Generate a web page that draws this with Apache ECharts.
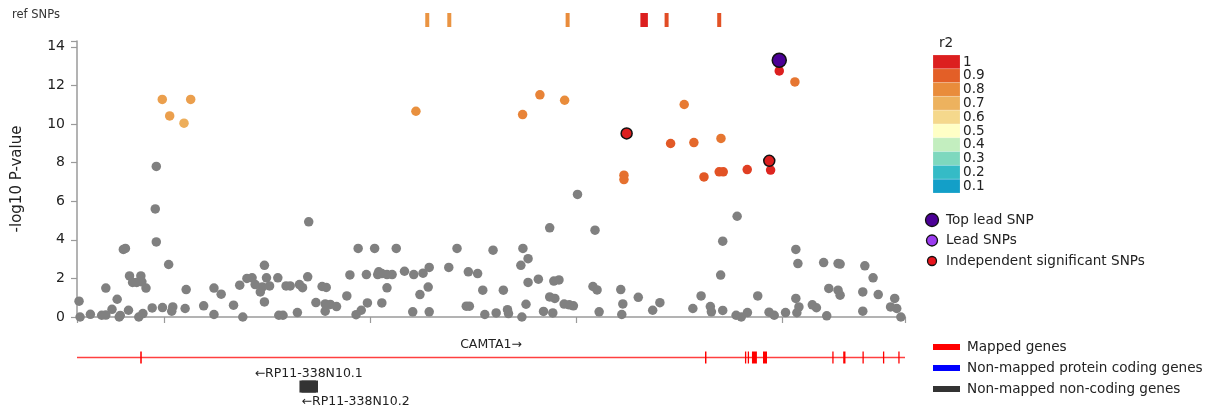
<!DOCTYPE html>
<html>
<head>
<meta charset="utf-8">
<script src="https://cdn.jsdelivr.net/npm/echarts@6/dist/echarts.min.js"></script>
<style>
  html, body { margin: 0; padding: 0; background: #fff; }
  #chart { width: 1209px; height: 411px; }
</style>
</head>
<body>
<div id="chart"></div>
<script>
// Regional association plot: positions in kb, -log10 P on the y axis.
const X_MIN = 6915, X_MAX = 7719;
const X_TICKS = [7000, 7200, 7400, 7600];
const Y_MAX = 14.3;
const Y_TICKS = [0, 2, 4, 6, 8, 10, 12, 14];

// SNPs not in LD with the lead SNP: [position kb, -log10 P]
const greySnps = [
  [6917,0.82],[6918,0.0],[6928,0.14],[6939,0.09],[6943,0.1],[6943,1.5],[6949,0.4],[6954,0.92],
  [6956,0.0],[6957,0.08],[6960,3.5],[6962,3.55],[6965,0.35],[6966,2.13],[6969,1.79],[6973,1.79],
  [6977,2.13],[6978,1.82],[6982,1.5],[6975,0.0],[6979,0.18],[6988,0.47],[6992,3.89],[6991,5.6],
  [6992,7.8],[6998,0.49],[7004,2.72],[7007,0.3],[7008,0.52],[7020,0.44],[7021,1.42],[7038,0.58],
  [7048,1.5],[7048,0.13],[7055,1.18],[7067,0.61],[7076,0.0],[7073,1.65],[7080,2.0],[7085,2.03],
  [7088,1.68],[7093,1.3],[7097,2.68],[7099,2.03],[7097,0.78],[7102,1.61],[7095,1.56],[7110,2.03],
  [7111,0.09],[7115,0.09],[7118,1.61],[7122,1.61],[7129,0.23],[7131,1.68],[7134,1.52],[7139,2.08],
  [7140,4.93],[7147,0.75],[7153,1.58],[7157,1.53],[7156,0.68],[7156,0.3],[7161,0.65],[7167,0.54],
  [7177,1.09],[7180,2.18],[7186,0.12],[7188,3.55],[7191,0.35],[7196,2.2],[7197,0.73],[7208,2.34],
  [7207,2.2],[7211,2.25],[7216,2.2],[7221,2.2],[7216,1.51],[7211,0.73],[7204,3.55],[7225,3.55],
  [7233,2.37],[7242,2.2],[7241,0.27],[7251,2.27],[7257,2.57],[7248,1.16],[7256,1.55],[7257,0.27],
  [7276,2.57],[7284,3.55],[7295,2.34],[7304,2.25],[7293,0.56],[7296,0.56],[7309,1.39],[7311,0.13],
  [7319,3.46],[7322,0.21],[7329,1.39],[7333,0.38],[7334,0.18],[7346,2.68],[7348,3.55],[7353,3.02],
  [7347,0.0],[7351,0.66],[7353,1.79],[7363,1.96],[7374,4.62],[7368,0.29],[7374,1.04],[7379,0.96],
  [7377,0.21],[7378,1.86],[7383,1.92],[7388,0.67],[7393,0.63],[7397,0.58],[7401,6.35],[7418,4.5],
  [7416,1.58],[7420,1.4],[7422,0.27],[7443,1.42],[7445,0.68],[7444,0.13],[7460,1.02],[7474,0.35],
  [7481,0.74],[7513,0.44],[7521,1.09],[7530,0.54],[7531,0.27],[7540,2.17],[7542,3.93],[7542,0.34],
  [7556,5.22],[7555,0.09],[7560,0.0],[7566,0.23],[7576,1.09],[7587,0.25],[7592,0.09],[7603,0.23],
  [7613,3.5],[7615,2.77],[7613,0.96],[7616,0.52],[7614,0.22],[7629,0.63],[7633,0.48],[7643,0.06],
  [7640,2.82],[7654,2.77],[7656,2.74],[7645,1.48],[7654,1.39],[7656,1.13],[7678,0.3],[7680,2.65],
  [7678,1.3],[7688,2.03],[7693,1.16],[7709,0.96],[7705,0.52],[7711,0.44],[7715,0.0]
];

// SNPs in LD with the lead SNP
const ldPos  = [6997.8, 7025.4, 7005.0, 7018.9, 7244.1, 7364.5, 7347.7, 7388.5, 7504.6, 7612.1, 7596.9,
                7491.4, 7514.0, 7540.3, 7446.1, 7446.1, 7523.8, 7538.6, 7542.5, 7565.8, 7588.5];
const ldLogP = [11.27, 11.27, 10.42, 10.04, 10.66, 11.51, 10.49, 11.23, 11.01, 12.18, 12.75,
                8.99, 9.04, 9.25, 7.35, 7.12, 7.26, 7.52, 7.52, 7.64, 7.61];
const ldR2   = [0.75, 0.75, 0.75, 0.71, 0.79, 0.82, 0.82, 0.8, 0.84, 0.85, 1.0,
                0.91, 0.88, 0.85, 0.86, 0.86, 0.91, 0.92, 0.92, 0.95, 0.99];

// Independent significant SNPs and the top lead SNP
const indepPos  = [7448.7, 7587.2];
const indepLogP = [9.51, 8.09];
const indepR2   = [1, 1];
const topLeadPos  = [7596.9];
const topLeadLogP = [13.3];

// Reference-panel SNPs (no P value), shown in the top strip
const refPos = [7255.1, 7276.5, 7391.4, 7464.0, 7467.4, 7487.5, 7538.6];
const refR2  = [0.78, 0.78, 0.8, 1.0, 1.0, 0.93, 0.92];

// r2 colour scale, from 1 down to 0.1
const r2Labels = ['1', '0.9', '0.8', '0.7', '0.6', '0.5', '0.4', '0.3', '0.2', '0.1'];
const r2Colors = ['#dc1f1f', '#e35f27', '#e98c3b', '#edb25e', '#f5d88c',
                  '#ffffc6', '#c3eebf', '#7ed8be', '#35bbc6', '#139fc8'];

// Genes in the region
const geneNames  = ['CAMTA1', 'RP11-338N10.1', 'RP11-338N10.2'];
const geneStart  = [6845, 7131, 7133];
const geneEnd    = [7829, 7149, 7147];
const geneStrand = ['+', '-', '-'];
const geneType   = ['mapped', 'noncoding', 'noncoding'];
const geneRow    = [1, 2.66, 2.66];
const geneLabelSide  = ['above', 'above', 'below'];
const geneLabelAlign = ['center', 'center', 'left'];
const camta1Exons = [[6976.4,6977.9],[7524.8,7526.2],[7563.6,7564.8],[7566.3,7567.5],[7570.4,7575.2],
                     [7581.1,7585.0],[7648.4,7649.6],[7659.0,7661.2],[7677.7,7678.9],[7697.6,7698.4],[7712.5,7713.7]];

const geneLegendNames  = ['Mapped genes', 'Non-mapped protein coding genes', 'Non-mapped non-coding genes'];
const geneLegendColors = ['#ff0000', '#0000ff', '#333333'];
const snpLegendNames   = ['Top lead SNP', 'Lead SNPs', 'Independent significant SNPs'];
const snpLegendColors  = ['#4b0096', '#9b3cf0', '#e8141c'];

const FONT = 'DejaVu Sans';
const AXIS_GREY = '#9a9a9a';
const GENE_COLOR = { mapped: '#ff0000', coding: '#0000ff', noncoding: '#333333' };

const chart = echarts.init(document.getElementById('chart'), null, { renderer: 'canvas' });

function geneItem(params, api) {
  const i = params.dataIndex;
  const row = geneRow[i];
  const s = Math.max(geneStart[i], X_MIN), e = Math.min(geneEnd[i], X_MAX);
  const p0 = api.coord([s, row]), p1 = api.coord([e, row]);
  const color = GENE_COLOR[geneType[i]];
  const children = [];
  const halfH = 6;
  if (geneType[i] === 'mapped') {
    children.push({ type: 'line', shape: { x1: p0[0], y1: p0[1], x2: p1[0], y2: p1[1] },
                    style: { stroke: color, lineWidth: 1.3, opacity: 0.75 } });
    camta1Exons.forEach(([a, b]) => {
      const q0 = api.coord([a, row]), q1 = api.coord([b, row]);
      children.push({ type: 'rect', shape: { x: q0[0], y: q0[1] - halfH, width: Math.max(q1[0] - q0[0], 1.3), height: 2 * halfH },
                      style: { fill: color } });
    });
  } else {
    children.push({ type: 'rect', shape: { x: p0[0], y: p0[1] - halfH, width: p1[0] - p0[0], height: 2 * halfH },
                    style: { fill: color } });
  }
  const text = geneStrand[i] === '+' ? geneNames[i] + '→' : '←' + geneNames[i];
  const align = geneLabelAlign[i];
  const tx = align === 'center' ? (p0[0] + p1[0]) / 2 : p0[0];
  const ty = geneLabelSide[i] === 'above' ? p0[1] - halfH - 7 : p0[1] + halfH + 9;
  children.push({ type: 'text', style: { text, x: tx, y: ty, align, verticalAlign: 'middle',
                  font: '12.5px ' + FONT, fill: '#222' } });
  return { type: 'group', children };
}

// Legends drawn as graphic elements
const LEG_FONT = '13.6px ' + FONT;
const graphics = [];
graphics.push({ type: 'text', left: 12, top: 9, style: { text: 'ref SNPs', font: '11.5px ' + FONT, fill: '#333' } });
graphics.push({ type: 'text', left: 939, top: 36, style: { text: 'r2', font: LEG_FONT, fill: '#222' } });
r2Colors.forEach((c, k) => {
  graphics.push({ type: 'rect', shape: { x: 933, y: 55 + k * 13.8, width: 27, height: 13.8 },
                  style: { fill: c, stroke: 'rgba(255,255,255,0.35)', lineWidth: 0.5 } });
  graphics.push({ type: 'text', x: 963, y: 62 + k * 13.8,
                  style: { text: r2Labels[k], font: LEG_FONT, fill: '#222', verticalAlign: 'middle' } });
});
const snpR = [6.5, 5.5, 4.5];
snpLegendNames.forEach((n, k) => {
  const cy = 220 + k * 20.5;
  graphics.push({ type: 'circle', shape: { cx: 932, cy, r: snpR[k] },
                  style: { fill: snpLegendColors[k], stroke: '#111', lineWidth: 1.3 } });
  graphics.push({ type: 'text', x: 946, y: cy, style: { text: n, font: LEG_FONT, fill: '#222', verticalAlign: 'middle' } });
});
geneLegendNames.forEach((n, k) => {
  const cy = 347 + k * 21;
  graphics.push({ type: 'rect', shape: { x: 933, y: cy - 3, width: 27, height: 6 }, style: { fill: geneLegendColors[k] } });
  graphics.push({ type: 'text', x: 967, y: cy, style: { text: n, font: LEG_FONT, fill: '#222', verticalAlign: 'middle' } });
});

const option = {
  animation: false,
  backgroundColor: '#fff',
  textStyle: { fontFamily: FONT },
  grid: [
    { left: 77, right: 304, top: 41, bottom: 94 },
    { left: 77, right: 304, top: 13, height: 14 },
    { left: 77, right: 304, top: 340, height: 70 }
  ],
  xAxis: [
    {
      gridIndex: 0, type: 'value', min: X_MIN, max: X_MAX,
      axisLine: { show: true, lineStyle: { color: AXIS_GREY, width: 1.5 } },
      axisTick: { show: true, length: 6, customValues: [X_MIN].concat(X_TICKS, [X_MAX]),
                  lineStyle: { color: AXIS_GREY, width: 1.2 } },
      axisLabel: { show: false },
      splitLine: { show: false }
    },
    { gridIndex: 1, type: 'value', min: X_MIN, max: X_MAX, show: false },
    { gridIndex: 2, type: 'value', min: X_MIN, max: X_MAX, show: false }
  ],
  yAxis: [
    {
      gridIndex: 0, type: 'value', min: 0, max: Y_MAX,
      name: '-log10 P-value', nameLocation: 'middle', nameGap: 52,
      nameTextStyle: { fontSize: 15, color: '#222', fontFamily: FONT },
      axisLine: { show: true, lineStyle: { color: AXIS_GREY, width: 1.5 } },
      axisTick: { show: true, length: 6, customValues: Y_TICKS.concat([Y_MAX]),
                  lineStyle: { color: AXIS_GREY, width: 1.2 } },
      axisLabel: { customValues: Y_TICKS, fontSize: 14, color: '#222', margin: 12, fontFamily: FONT },
      splitLine: { show: false }
    },
    { gridIndex: 1, type: 'value', min: 0, max: 1, show: false },
    { gridIndex: 2, type: 'value', min: 0, max: 4, inverse: true, show: false }
  ],
  visualMap: {
    type: 'continuous', show: false, min: 0.1, max: 1, dimension: 2,
    seriesIndex: [0, 2, 3],
    inRange: { color: r2Colors.slice().reverse() }
  },
  series: [
    {
      name: 'ref SNPs', type: 'scatter', xAxisIndex: 1, yAxisIndex: 1,
      symbol: 'rect', symbolSize: [4, 14], itemStyle: { opacity: 1 },
      data: refPos.map((p, i) => [p, 0.5, refR2[i]])
    },
    {
      name: 'SNPs', type: 'scatter', xAxisIndex: 0, yAxisIndex: 0,
      symbolSize: 9.5, itemStyle: { color: '#808080', opacity: 1 },
      data: greySnps
    },
    {
      name: 'LD SNPs', type: 'scatter', xAxisIndex: 0, yAxisIndex: 0,
      symbolSize: 9.5, itemStyle: { opacity: 1 },
      data: ldPos.map((p, i) => [p, ldLogP[i], ldR2[i]])
    },
    {
      name: 'Independent significant SNPs', type: 'scatter', xAxisIndex: 0, yAxisIndex: 0,
      symbolSize: 11, itemStyle: { borderColor: '#111', borderWidth: 1.5, opacity: 1 },
      data: indepPos.map((p, i) => [p, indepLogP[i], indepR2[i]])
    },
    {
      name: 'Top lead SNP', type: 'scatter', xAxisIndex: 0, yAxisIndex: 0,
      symbolSize: 14, itemStyle: { color: '#4b0096', borderColor: '#111', borderWidth: 1.5, opacity: 1 },
      data: topLeadPos.map((p, i) => [p, topLeadLogP[i]])
    },
    {
      name: 'Genes', type: 'custom', xAxisIndex: 2, yAxisIndex: 2,
      renderItem: geneItem,
      encode: { x: [0, 1], y: 2 },
      data: geneNames.map((n, i) => [geneStart[i], geneEnd[i], geneRow[i]])
    }
  ],
  graphic: graphics
};

chart.setOption(option);
</script>
</body>
</html>
